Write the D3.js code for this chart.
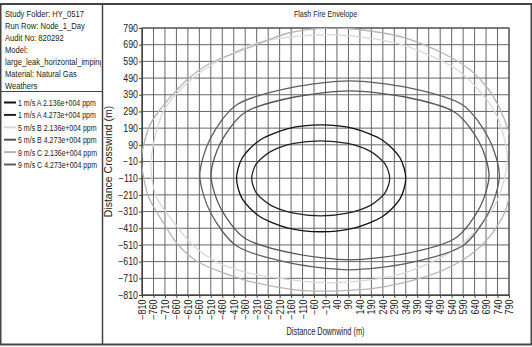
<!DOCTYPE html>
<html>
<head>
<meta charset="utf-8">
<script src="https://cdn.jsdelivr.net/npm/d3@7"></script>
<style>
  body { margin: 0; background: #fff; }
  text { font-family: "Liberation Sans Narrow", "Arial Narrow", "Liberation Sans", Arial, sans-serif; fill: #222; }
</style>
</head>
<body>
<div id="chart"></div>
<script>
// info panel text (the model name is cut off in the panel)
var infoLines = ['Study Folder: HY_0517', 'Run Row: Node_1_Day', 'Audit No: 820292', 'Model:',
    'large_leak_horizontal_impinge', 'Material: Natural Gas', 'Weathers'];

var seriesNames = ['1 m/s A 2.136e+004 ppm', '1 m/s A 4.273e+004 ppm', '5 m/s B 2.136e+004 ppm',
    '5 m/s B 4.273e+004 ppm', '9 m/s C 2.136e+004 ppm', '9 m/s C 4.273e+004 ppm'];

var xTickValues = [-810, -760, -710, -660, -610, -560, -510, -460, -410, -360, -310, -260, -210, -160, -110, -60,
    -10, 40, 90, 140, 190, 240, 290, 340, 390, 440, 490, 540, 590, 640, 690, 740, 790];
var yTickValues = [-810, -710, -610, -510, -410, -310, -210, -110, -10, 90, 190, 290, 390, 490, 590, 690, 790];

// envelope outlines [downwind, crosswind] in m
var envA2136 = [[340, -111], [314, 14], [237, 119], [115, 187], [-29, 209], [-173, 187], [-295, 119], [-372, 14],
    [-398, -111], [-372, -236], [-295, -341], [-173, -409], [-29, -431], [115, -409], [237, -341], [314, -236]];
var envA4273 = [[270, -111], [249, -23], [186, 51], [86, 98], [-31, 114], [-148, 98], [-248, 51], [-311, -23],
    [-332, -111], [-311, -199], [-248, -273], [-148, -320], [-31, -336], [86, -320], [186, -273], [249, -199]];
var envB2136 = [[783, 5], [725, 296], [562, 541], [304, 698], [0, 750], [-310, 700], [-560, 521], [-713, 299],
    [-770, 5], [-748, -220], [-657, -400], [-589, -510], [-477, -617], [-304, -690], [0, -737], [304, -690],
    [562, -530], [725, -280]];
var envB4273 = [[703, -93], [661, 104], [552, 287], [333, 378], [97, 413], [-139, 378], [-358, 287], [-467, 104],
    [-509, -93], [-467, -290], [-358, -473], [-139, -564], [97, -599], [333, -564], [552, -473], [661, -290]];
var envC2136 = [[815, 0], [786, 179], [752, 300], [702, 420], [620, 540], [500, 640], [340, 730], [170, 775],
    [0, 790], [-170, 760], [-339, 676], [-510, 580], [-610, 485], [-677, 389], [-739, 287], [-781, 191],
    [-812, 0], [-782, -220], [-706, -400], [-652, -510], [-560, -617], [-366, -719], [-143, -779], [50, -785],
    [250, -760], [450, -690], [600, -590], [700, -470], [770, -320], [800, -160]];
var envC4273 = [[748, -93], [702, 128], [585, 332], [350, 433], [95, 473], [-160, 433], [-395, 332], [-512, 128],
    [-558, -93], [-512, -314], [-395, -518], [-160, -619], [95, -659], [350, -619], [585, -518], [702, -314]];

var envelopes = [envA2136, envA4273, envB2136, envB4273, envC2136, envC4273];

var svgWidth = 532;
var svgHeight = 347;
var plot = {left: 142, top: 28, right: 509, bottom: 295};

var svg = d3.select('#chart')
    .append('svg')
    .attr('width', svgWidth)
    .attr('height', svgHeight);

var color = d3.scaleOrdinal()
    .domain(seriesNames)
    .range(['#111', '#222', '#d8d8d8', '#555', '#b4b4b4', '#5e5e5e']);

// outer frame and panel dividers
svg.append('rect')
    .attr('x', 0.5).attr('y', 4).attr('width', svgWidth - 1).attr('height', 340.5)
    .attr('fill', 'none').attr('stroke', '#444').attr('stroke-width', 2);
svg.append('line')
    .attr('x1', 102.5).attr('x2', 102.5).attr('y1', 4).attr('y2', 345)
    .attr('stroke', '#444').attr('stroke-width', 1.5);
svg.append('line')
    .attr('x1', 0).attr('x2', 102).attr('y1', 91.5).attr('y2', 91.5)
    .attr('stroke', '#444');

svg.append('clipPath').attr('id', 'infoclip')
    .append('rect').attr('x', 0).attr('y', 0).attr('width', 101).attr('height', 347);

// info text (narrow look)
svg.append('g')
    .attr('clip-path', 'url(#infoclip)')
    .append('g')
    .attr('transform', 'translate(5, 0) scale(0.8, 1)')
    .selectAll('text')
    .data(infoLines)
    .enter()
    .append('text')
    .attr('x', 0)
    .attr('y', (d, i) => 17.5 + i * 11.9)
    .style('font-size', '9.5px')
    .text(d => d);

// legend
var legend = svg.append('g')
    .attr('clip-path', 'url(#infoclip)')
    .selectAll('g')
    .data(seriesNames)
    .enter()
    .append('g')
    .attr('transform', (d, i) => `translate(4, ${102.5 + i * 12.4})`);
legend.append('line')
    .attr('x1', 0).attr('x2', 12)
    .attr('stroke', d => color(d))
    .attr('stroke-width', 2);
legend.append('text')
    .attr('transform', 'translate(14, 3.5) scale(0.74, 1)')
    .style('font-size', '9.5px')
    .text(d => d);

// scales
var x = d3.scaleLinear().domain([-810, 790]).range([plot.left, plot.right]);
var y = d3.scaleLinear().domain([-810, 790]).range([plot.bottom, plot.top]);

var chartGroup = svg.append('g');

// grid
chartGroup.append('g')
    .selectAll('line')
    .data(xTickValues)
    .enter()
    .append('line')
    .attr('x1', d => x(d)).attr('x2', d => x(d))
    .attr('y1', plot.top).attr('y2', plot.bottom)
    .attr('stroke', '#666').attr('stroke-width', 1);
chartGroup.append('g')
    .selectAll('line')
    .data(yTickValues)
    .enter()
    .append('line')
    .attr('x1', plot.left).attr('x2', plot.right)
    .attr('y1', d => y(d)).attr('y2', d => y(d))
    .attr('stroke', '#666').attr('stroke-width', 1);

// axes
var bottomAxis = d3.axisBottom(x).tickValues(xTickValues).tickSize(3).tickPadding(2);
var leftAxis = d3.axisLeft(y).tickValues(yTickValues).tickSize(3).tickPadding(1);

var xAxis = chartGroup.append('g')
    .attr('transform', `translate(0, ${plot.bottom})`)
    .call(bottomAxis);
xAxis.selectAll('text')
    .attr('transform', 'rotate(-90) scale(0.9, 1)')
    .attr('x', -5).attr('y', 0).attr('dy', '0.35em')
    .style('text-anchor', 'end')
    .style('font-size', '10px');

var yAxis = chartGroup.append('g')
    .attr('transform', `translate(${plot.left}, 0)`)
    .call(leftAxis);
yAxis.selectAll('text')
    .attr('transform', 'translate(-4, 0) scale(0.88, 1)')
    .attr('x', 0)
    .style('font-size', '10px');

chartGroup.selectAll('.domain').attr('stroke', '#444');
chartGroup.selectAll('.tick line').attr('stroke', '#444');

// plot border
chartGroup.append('rect')
    .attr('x', plot.left).attr('y', plot.top)
    .attr('width', plot.right - plot.left).attr('height', plot.bottom - plot.top)
    .attr('fill', 'none').attr('stroke', '#444');

// envelopes
svg.append('clipPath').attr('id', 'clip')
    .append('rect')
    .attr('x', plot.left).attr('y', plot.top)
    .attr('width', plot.right - plot.left).attr('height', plot.bottom - plot.top);

var line = d3.line()
    .x(d => x(d[0]))
    .y(d => y(d[1]))
    .curve(d3.curveCardinalClosed.tension(0.2));

svg.append('g')
    .attr('clip-path', 'url(#clip)')
    .selectAll('path')
    .data(envelopes)
    .enter()
    .append('path')
    .attr('d', d => line(d))
    .attr('fill', 'none')
    .attr('stroke', (d, i) => color(seriesNames[i]))
    .attr('stroke-width', 1.3);

// titles
var cx = (plot.left + plot.right) / 2;
svg.append('text')
    .attr('transform', `translate(${cx}, 16.5) scale(0.75, 1)`)
    .attr('text-anchor', 'middle')
    .style('font-size', '9.5px')
    .text('Flash Fire Envelope');

svg.append('text')
    .attr('transform', `translate(${cx}, 335) scale(0.74, 1)`)
    .attr('text-anchor', 'middle')
    .style('font-size', '10px')
    .text('Distance Downwind (m)');

svg.append('text')
    .attr('transform', `translate(112, ${(plot.top + plot.bottom) / 2}) rotate(-90)`)
    .attr('text-anchor', 'middle')
    .style('font-size', '10.5px')
    .text('Distance Crosswind (m)');
</script>
</body>
</html>
